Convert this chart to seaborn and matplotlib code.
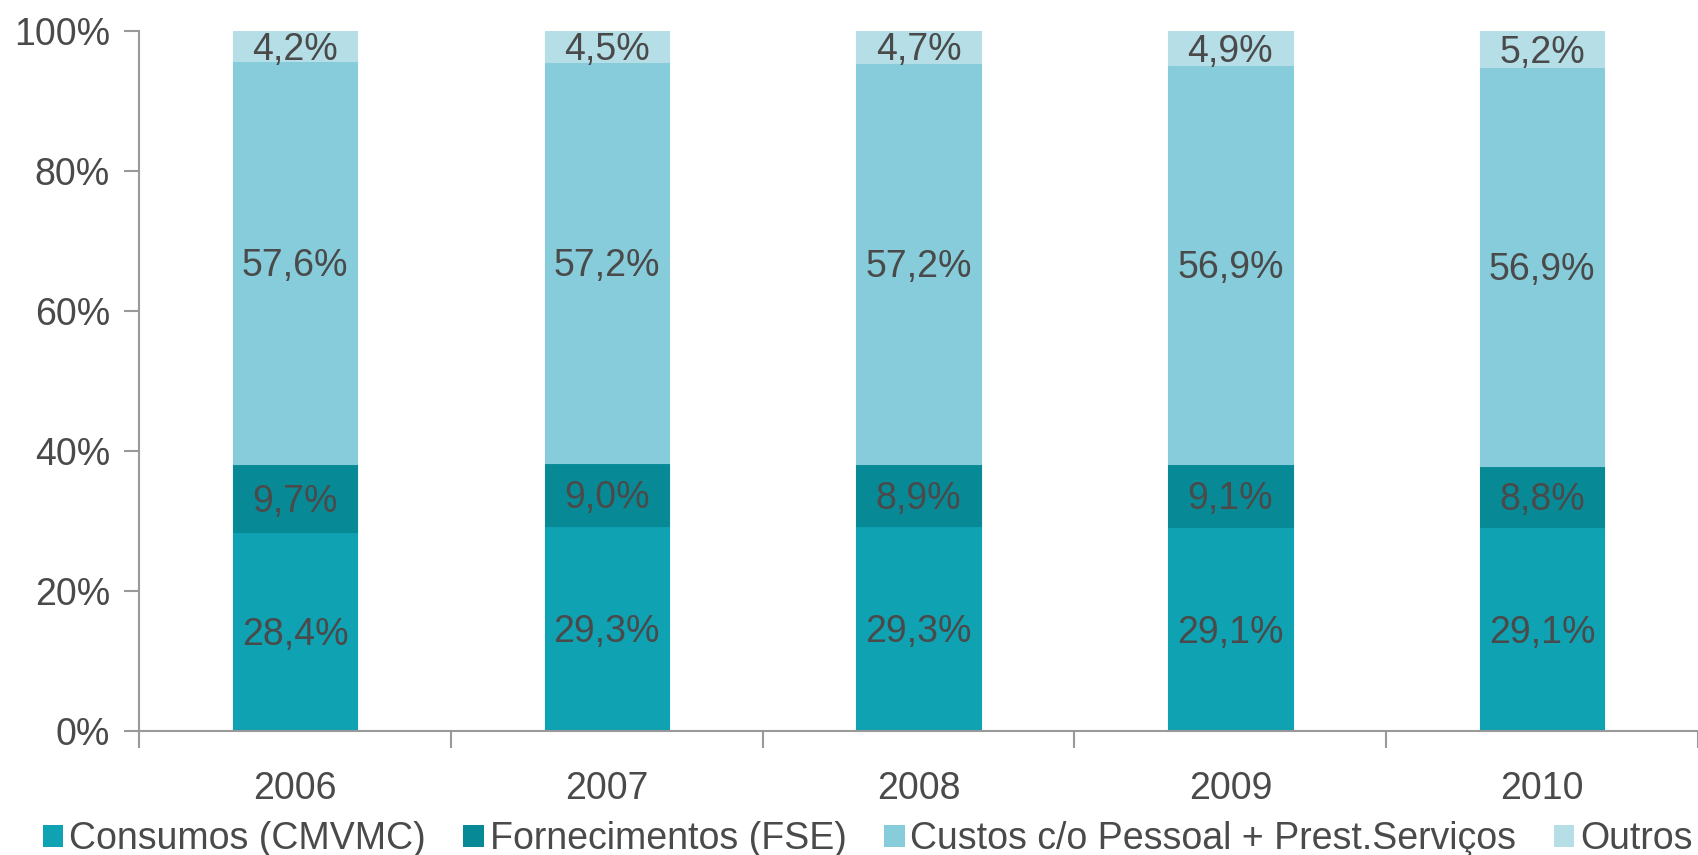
import matplotlib
matplotlib.use("Agg")
import matplotlib.pyplot as plt
import seaborn as sns
import numpy as np
import pandas as pd
from matplotlib.patches import Patch
from matplotlib.ticker import FixedLocator

years = ["2006", "2007", "2008", "2009", "2010"]
consumos = [28.4, 29.3, 29.3, 29.1, 29.1]
fornecimentos = [9.7, 9.0, 8.9, 9.1, 8.8]
custos = [57.6, 57.2, 57.2, 56.9, 56.9]
outros = [4.2, 4.5, 4.7, 4.9, 5.2]

series_names = ["Consumos (CMVMC)", "Fornecimentos (FSE)",
                "Custos c/o Pessoal + Prest.Serviços", "Outros"]
series_vals = [consumos, fornecimentos, custos, outros]
colors = ["#0EA2B3", "#088A96", "#86CCDA", "#B5DEE6"]

sns.set_theme(style="white")
plt.rcParams['font.family'] = ['Liberation Sans', 'DejaVu Sans']
txt_color = "#4A4A4A"

fig = plt.figure(figsize=(16.98, 8.55), dpi=100)
ax = fig.add_axes([0.082, 0.145, 0.918, 0.819])

bottom = np.zeros(len(years))
for name, vals, col in zip(series_names, series_vals, colors):
    df = pd.DataFrame({"year": years, "val": vals})
    sns.barplot(data=df, x="year", y="val", color=col, width=0.4,
                bottom=bottom, ax=ax, saturation=1, linewidth=0.8,
                edgecolor=col)
    v = np.array(vals)
    for i in range(len(years)):
        ax.text(i, bottom[i] + v[i] / 2 - 0.55,
                f"{v[i]:.1f}%".replace(".", ","),
                ha="center", va="center", fontsize=27, color=txt_color)
    bottom = bottom + v

ax.set_ylim(0, 100)
ax.set_xlim(-0.5, len(years) - 0.5)
ax.set_yticks([0, 20, 40, 60, 80, 100])
ax.set_yticklabels([f"{t}%" for t in [0, 20, 40, 60, 80, 100]])
ax.set_xlabel("")
ax.set_ylabel("")

for s in ["top", "right"]:
    ax.spines[s].set_visible(False)
for s in ["left", "bottom"]:
    ax.spines[s].set_color("#999999")
    ax.spines[s].set_linewidth(1.5)

ax.tick_params(axis="y", which="major", left=True, length=11, width=1.5,
               color="#999999", labelsize=27, labelcolor=txt_color, pad=10)
ax.tick_params(axis="x", which="major", bottom=False, length=0,
               labelsize=27, labelcolor=txt_color, pad=29)
ax.xaxis.set_minor_locator(FixedLocator(np.arange(-0.5, len(years), 1.0)))
ax.tick_params(axis="x", which="minor", bottom=True, length=12, width=1.5,
               color="#999999", direction="out")

handles = [Patch(facecolor=c, edgecolor="none") for c in colors]
leg = fig.legend(handles, series_names, loc="lower center",
                 bbox_to_anchor=(0.511, -0.042), ncol=4, frameon=False,
                 fontsize=27, handlelength=0.55, handleheight=0.55,
                 handletextpad=0.15, columnspacing=1.0)
for t in leg.get_texts():
    t.set_color(txt_color)

fig.savefig("out.png", dpi=100)
